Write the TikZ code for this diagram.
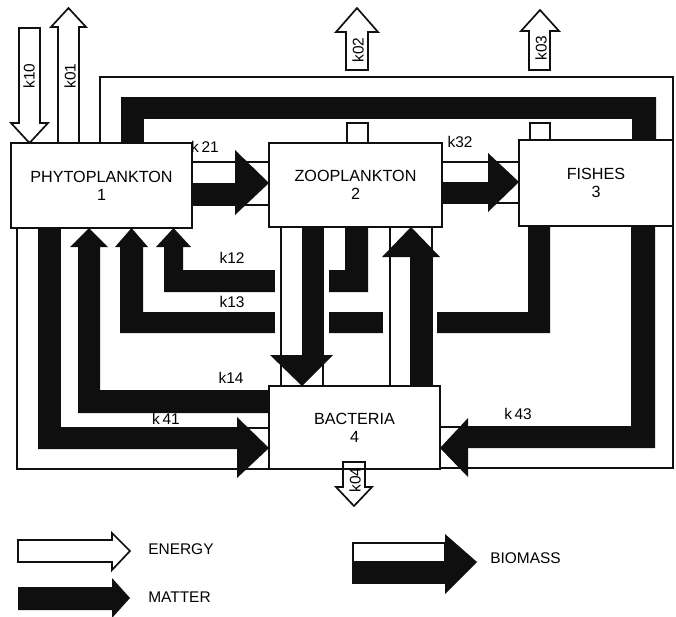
\documentclass[tikz,border=0pt]{standalone}
\usepackage{fontspec}
\setmainfont{Liberation Sans}
\usepackage{tikz}
\definecolor{ink}{RGB}{15,15,15}
\tikzset{
  box/.style  ={draw=ink, line width=1.2pt, inner sep=0pt, outer sep=0pt, align=center,
                font=\fontsize{11.5}{13}\selectfont},
  enr/.style  ={draw=ink, fill=white, line width=1.2pt},
  mat/.style  ={fill=ink},
  gap/.style  ={fill=white},
  lab/.style  ={font=\fontsize{11}{12}\selectfont, inner sep=0pt},
  labr/.style ={lab, rotate=90},
}

\begin{document}
\begin{tikzpicture}[x=0.25mm, y=-0.25mm]
  \useasboundingbox (0,0) rectangle (676,616);
  % matter returns to phytoplankton
  \fill[mat] (368,227) -- (368,292) -- (164,292) -- (164,247) -- (156,247) -- (173.5,228)
    -- (191,247) -- (183,247) -- (183,270) -- (345,270) -- (345,227) -- cycle;
  \fill[mat] (550,226) -- (550,333) -- (120,333) -- (120,247) -- (115,247) -- (131.5,228)
    -- (148,247) -- (143,247) -- (143,312) -- (528,312) -- (528,226) -- cycle;
  \fill[mat] (269,413) -- (78,413) -- (78,247) -- (70,247) -- (89,228) -- (108,247)
    -- (100,247) -- (100,390) -- (269,390) -- cycle;
  \fill[gap] (275,265) rectangle (329,338);
  \fill[gap] (383,305) rectangle (437,338);
  % biomass
  \draw[enr] (192,162) rectangle (269,205);
  \fill[mat] (192,183) rectangle (235,205);
  \fill[mat] (235,150) -- (269,183) -- (235,215) -- cycle;
  \draw[enr] (442,162) rectangle (519,203);
  \fill[mat] (442,182) rectangle (488,203);
  \fill[mat] (488,153) -- (519,182) -- (488,212) -- cycle;
  \draw[enr] (281,227) rectangle (323,386);
  \fill[mat] (302,227) rectangle (323,355);
  \fill[mat] (270,355) -- (302,386) -- (333,355) -- cycle;
  \draw[enr] (390,227) rectangle (432,386);
  \fill[mat] (410,257) rectangle (432,386);
  \fill[mat] (382,257) -- (411,227) -- (440,257) -- cycle;
  \draw[enr] (100,143) -- (100,77) -- (673,77) -- (673,140) -- (633,140) -- (633,118)
    -- (143,118) -- (143,143) -- cycle;
  \fill[mat] (121,143) -- (121,97) -- (656,97) -- (656,140) -- (633,140) -- (633,118)
    -- (143,118) -- (143,143) -- cycle;
  \draw[enr] (17,228) -- (17,469) -- (269,469) -- (269,428) -- (60,428) -- (60,228) -- cycle;
  \fill[mat] (38,228) -- (38,449) -- (237,449) -- (237,428) -- (60,428) -- (60,228) -- cycle;
  \fill[mat] (237,417) -- (269,448) -- (237,478) -- cycle;
  \draw[enr] (673,226) -- (673,468) -- (440,468) -- (440,427) -- (632,427) -- (632,226) -- cycle;
  \fill[mat] (632,226) -- (655,226) -- (655,448) -- (468,448) -- (468,427) -- (632,427) -- cycle;
  \fill[mat] (468,418) -- (440,448) -- (468,477) -- cycle;
  % energy
  \draw[enr] (19,28) -- (40,28) -- (40,123) -- (48,123) -- (29.5,143) -- (11,123) -- (19,123) -- cycle;
  \draw[enr] (58,143) -- (58,27) -- (51,27) -- (68.5,8) -- (86,27) -- (79,27) -- (79,143) -- cycle;
  \draw[enr] (346,70) -- (346,32) -- (336,32) -- (357,8) -- (378,32) -- (368,32) -- (368,70) -- cycle;
  \draw[enr] (347,143) -- (347,123) -- (368,123) -- (368,143);
  \draw[enr] (529,70) -- (529,31) -- (521,31) -- (540,10) -- (559,31) -- (550,31) -- (550,70) -- cycle;
  \draw[enr] (530,140) -- (530,123) -- (550,123) -- (550,140);
  \draw[enr] (343,462) -- (365,462) -- (365,487) -- (372,487) -- (354,506) -- (336,487) -- (343,487) -- cycle;
  % compartments
  \node[box, minimum width=45.25mm, minimum height=21.25mm] (phyto) at (101.5,185.5) {PHYTOPLANKTON\\1};
  \node[box, minimum width=43.25mm, minimum height=21mm] (zoo) at (355.5,185) {ZOOPLANKTON\\2};
  \node[box, minimum width=38.5mm, minimum height=21.5mm] (fish) at (596,183) {FISHES\\3};
  \node[box, minimum width=42.75mm, minimum height=20.75mm] (bact) at (354.5,427.5) {BACTERIA\\4};
  % rates
  \node[labr] (k10) at (29,76) {k10};
  \node[labr] (k01) at (70,76) {k01};
  \node[labr] (k02) at (358,50) {k02};
  \node[labr] (k03) at (541,48) {k03};
  \node[labr] (k04) at (355,480) {k04};
  \node[lab] (k21) at (205,147) {k\,21};
  \node[lab] (k32) at (460,142) {k32};
  \node[lab] (k12) at (232,258) {k12};
  \node[lab] (k13) at (232,302) {k13};
  \node[lab] (k14) at (231,378) {k14};
  \node[lab] (k41) at (166,419) {k\,41};
  \node[lab] (k43) at (518,414) {k\,43};
  % legend
  \draw[enr] (18,540) -- (112,540) -- (112,533) -- (130,551) -- (112,570) -- (112,562) -- (18,562) -- cycle;
  \node[lab, anchor=west] (energy) at (148,549) {ENERGY};
  \fill[mat] (18,587) -- (112,587) -- (112,578) -- (130,598) -- (112,618) -- (112,610) -- (18,610) -- cycle;
  \node[lab, anchor=west] (matter) at (148,597) {MATTER};
  \draw[enr] (353,543) rectangle (445,583);
  \fill[mat] (353,561) rectangle (445,583);
  \fill[mat] (445,534) -- (477,562) -- (445,594) -- cycle;
  \node[lab, anchor=west] (biomass) at (490,558) {BIOMASS};
\end{tikzpicture}
\end{document}
